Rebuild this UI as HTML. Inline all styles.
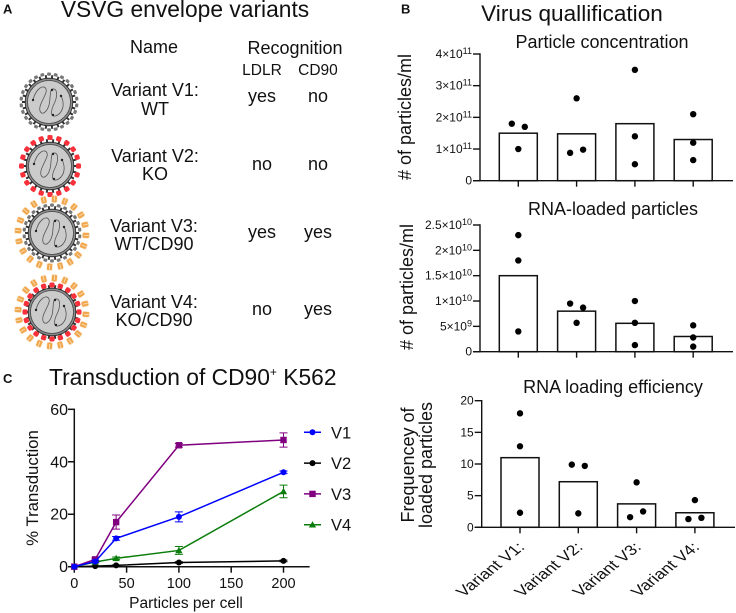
<!DOCTYPE html>
<html lang="en">
<head>
<meta charset="utf-8">
<title>VSVG envelope variants</title>
<style>
html,body{margin:0;padding:0;background:#fff;}
svg{display:block;font-family:"Liberation Sans",Arial,sans-serif;fill:#111;}
.c{text-anchor:middle;}
.panel{font-weight:bold;font-size:13px;}
.t23{font-size:22.8px;}
.t18{font-size:18px;}
.t155{font-size:15.5px;}
</style>
</head>
<body>
<svg id="figure" width="736" height="613" viewBox="0 0 736 613" xmlns="http://www.w3.org/2000/svg">
  <rect width="736" height="613" fill="#fff"/>

  <text class="panel" x="3" y="13.5">A</text>
  <text class="panel" x="401" y="13.5">B</text>
  <text class="panel" x="3" y="383">C</text>

  <text class="t23 c" x="185" y="17">VSVG envelope variants</text>
  <text class="t18 c" x="154" y="53">Name</text>
  <text class="t18 c" x="295" y="54">Recognition</text>
  <text class="t155 c" x="262" y="75">LDLR</text>
  <text class="t155 c" x="318" y="75">CD90</text>

  <g class="t18">
    <text class="c" x="155" y="96">Variant V1:</text>
    <text class="c" x="155" y="115">WT</text>
    <text class="c" x="262" y="102">yes</text>
    <text class="c" x="318" y="102">no</text>
    <text class="c" x="155" y="162">Variant V2:</text>
    <text class="c" x="155" y="180">KO</text>
    <text class="c" x="262" y="170">no</text>
    <text class="c" x="318" y="170">no</text>
    <text class="c" x="154" y="232">Variant V3:</text>
    <text class="c" x="154" y="250">WT/CD90</text>
    <text class="c" x="262" y="238">yes</text>
    <text class="c" x="318" y="238">yes</text>
    <text class="c" x="154" y="308">Variant V4:</text>
    <text class="c" x="154" y="326">KO/CD90</text>
    <text class="c" x="262" y="315">no</text>
    <text class="c" x="318" y="315">yes</text>
  </g>

  <g id="viruses"></g>

  <text class="c" font-size="22.6" x="572" y="21">Virus quallification</text>
  <text class="t18 c" x="602" y="48">Particle concentration</text>
  <text class="t18 c" x="613" y="215">RNA-loaded particles</text>
  <text class="t18 c" x="613" y="393">RNA loading efficiency</text>

  <text class="t18 c" transform="translate(411,117) rotate(-90)"># of particles/ml</text>
  <text class="t18 c" transform="translate(413,287) rotate(-90)"># of particles/ml</text>
  <text class="t18 c" transform="translate(414,465) rotate(-90)">Frequencey of</text>
  <text class="t18 c" transform="translate(432,465) rotate(-90)">loaded particles</text>

  <g id="bars1"></g>
  <g id="bars2"></g>
  <g id="bars3"></g>

  <text class="t23" x="49" y="385">Transduction of CD90<tspan font-size="12" dy="-9">+</tspan><tspan dy="9"> K562</tspan></text>
  <text class="c" font-size="16.8" transform="translate(38,488) rotate(-90)">% Transduction</text>
  <text class="c" font-size="15.5" x="186" y="608">Particles per cell</text>
  <g id="linechart"></g>
</svg>

<script>
// ---------- Bar chart data ----------
const variantCategories = ['Variant V1:', 'Variant V2:', 'Variant V3:', 'Variant V4:'];

const concentrationTicks = [0, 1e11, 2e11, 3e11, 4e11];
const concentrationTickLabels = [['0', ''], ['1×10', '11'], ['2×10', '11'], ['3×10', '11'], ['4×10', '11']];
const concentrationBars = [1.5e11, 1.48e11, 1.8e11, 1.3e11];
const concentrationDots = [[1.8e11, 1.7e11, 1.0e11], [2.6e11, 0.88e11, 0.98e11], [3.5e11, 1.4e11, 0.52e11], [2.1e11, 1.2e11, 0.65e11]];

const loadedTicks = [0, 5e9, 1e10, 1.5e10, 2e10, 2.5e10];
const loadedTickLabels = [['0', ''], ['5×10', '9'], ['1×10', '10'], ['1.5×10', '10'], ['2×10', '10'], ['2.5×10', '10']];
const loadedBars = [1.5e10, 0.8e10, 0.56e10, 0.3e10];
const loadedDots = [[2.3e10, 1.8e10, 0.4e10], [0.95e10, 0.87e10, 0.57e10], [1.0e10, 0.57e10, 0.13e10], [0.52e10, 0.28e10, 0.1e10]];

const efficiencyTicks = [0, 5, 10, 15, 20];
const efficiencyTickLabels = [['0', ''], ['5', ''], ['10', ''], ['15', ''], ['20', '']];
const efficiencyBars = [11, 7.2, 3.7, 2.3];
const efficiencyDots = [[18, 12.8, 2.3], [9.9, 9.7, 2.2], [7.1, 1.6, 2.5], [4.3, 1.3, 1.5]];

// ---------- Line chart data ----------
const doseValues = [0, 20, 40, 100, 200];
const xTickValues = [0, 50, 100, 150, 200];
const yTickValues = [0, 20, 40, 60];
const seriesNames = ['V1', 'V2', 'V3', 'V4'];
const v1Values = [0, 2, 10.8, 19, 36];
const v1Errors = [0, 0.5, 0.7, 1.9, 0.5];
const v2Values = [0, 0.2, 0.5, 1.6, 2.2];
const v2Errors = [0, 0.1, 0.2, 0.3, 0.3];
const v3Values = [0, 2.8, 17, 46.3, 48.3];
const v3Errors = [0, 0.5, 2.7, 0.7, 2.7];
const v4Values = [0, 1.8, 3.2, 6.2, 28.7];
const v4Errors = [0, 0.3, 0.5, 1.5, 2.4];

const NS = 'http://www.w3.org/2000/svg';
function make(tag, attrs, parent) {
  const e = document.createElementNS(NS, tag);
  for (const k in attrs) e.setAttribute(k, attrs[k]);
  parent.appendChild(e);
  return e;
}

// ---------- Bar charts ----------
function drawBarChart(opts) {
  const root = document.getElementById(opts.id);
  const y = v => opts.y0 - (v / opts.ticks[opts.ticks.length - 1]) * (opts.y0 - opts.yTop);
  const x = i => opts.cx0 + i * opts.step;

  opts.bars.forEach((v, i) => {
    const bar = make('rect', {x: x(i) - 19, y: y(v), width: 38, height: opts.y0 - y(v), fill: '#fff', stroke: '#111', 'stroke-width': 1.5}, root);
    
    
  });

  const yAxis = make('line', {x1: opts.xAxis, x2: opts.xAxis, y1: opts.yTop - 0.7, y2: opts.y0 + 0.7, stroke: '#111', 'stroke-width': 1.4}, root);
  
  
  const xAxis = make('line', {x1: opts.xAxis - 7, x2: opts.xEnd, y1: opts.y0, y2: opts.y0, stroke: '#111', 'stroke-width': 1.4}, root);
  
  

  opts.ticks.forEach((t, i) => {
    const tick = make('line', {x1: opts.xAxis - 7, x2: opts.xAxis, y1: y(t), y2: y(t), stroke: '#111', 'stroke-width': 1.4}, root);
    
    
    const label = make('text', {x: opts.xAxis - 8, y: y(t) + 4, 'text-anchor': 'end', 'font-size': opts.tickSize}, root);
    
    
    const main = make('tspan', {}, label);
    main.textContent = opts.labels[i][0];
    if (opts.labels[i][1]) {
      const sup = make('tspan', {'font-size': 9, dy: -4}, label);
      sup.textContent = opts.labels[i][1];
    }
  });

  opts.bars.forEach((v, i) => {
    const tick = make('line', {x1: x(i), x2: x(i), y1: opts.y0, y2: opts.y0 + 6, stroke: '#111', 'stroke-width': 1.4}, root);
    
    
  });

  opts.dots.forEach((group, i) => {
    group.forEach((v, j) => {
      const py = y(v);
      let off = 0;
      // Points that share a height are swarmed sideways, as in a scatter-dot plot.
      group.forEach((w, k) => {
        if (k !== j && Math.abs(y(w) - py) < 6.4) off = (k > j) ? -6.5 : 6.5;
      });
      const dot = make('circle', {cx: x(i) + off, cy: py, r: 3.2, fill: '#000'}, root);
      
      
    });
  });

  if (opts.showCategories) {
    variantCategories.forEach((c, i) => {
      const label = make('text', {transform: 'translate(' + (x(i) + 5.5) + ',548) scale(1,0.8) rotate(-45)', 'text-anchor': 'end', 'font-size': 18}, root);
      
      
      label.textContent = c;
    });
  }
}

drawBarChart({id: 'bars1', key: 'concentration', ticks: concentrationTicks, labels: concentrationTickLabels, bars: concentrationBars, dots: concentrationDots, y0: 180.7, yTop: 54, xAxis: 480, xEnd: 733, cx0: 518.3, step: 58.3, tickSize: 12});
drawBarChart({id: 'bars2', key: 'loaded', ticks: loadedTicks, labels: loadedTickLabels, bars: loadedBars, dots: loadedDots, y0: 351.7, yTop: 225, xAxis: 480, xEnd: 733, cx0: 518.3, step: 58.3, tickSize: 12});
drawBarChart({id: 'bars3', key: 'efficiency', ticks: efficiencyTicks, labels: efficiencyTickLabels, bars: efficiencyBars, dots: efficiencyDots, y0: 527.3, yTop: 400.7, xAxis: 481.7, xEnd: 735, cx0: 520, step: 58.3, tickSize: 12});
(function () {
  const root = document.getElementById('bars3');
  variantCategories.forEach((c, i) => {
    const label = make('text', {transform: 'translate(' + (525.5 + i * 58.3) + ',548) scale(1,0.8) rotate(-45)', 'text-anchor': 'end', 'font-size': 18}, root);
    
    
    label.textContent = c;
  });
})();

// ---------- Line chart ----------
(function () {
  const root = document.getElementById('linechart');
  const sx = v => 74.3 + (v / 200) * 209.2;
  const sy = v => 566.7 - (v / 60) * 157.4;
  const colors = {V1: '#0000ff', V2: '#000000', V3: '#800080', V4: '#0a7d0a'};
  const valuesBySeries = {V1: v1Values, V2: v2Values, V3: v3Values, V4: v4Values};
  const errorsBySeries = {V1: v1Errors, V2: v2Errors, V3: v3Errors, V4: v4Errors};

  function marker(name, cx, cy, parent) {
    const col = colors[name];
    if (name === 'V3') return make('rect', {x: cx - 3.2, y: cy - 3.2, width: 6.4, height: 6.4, fill: col}, parent);
    if (name === 'V4') return make('polygon', {points: (cx) + ',' + (cy - 3.6) + ' ' + (cx + 3.6) + ',' + (cy + 2.8) + ' ' + (cx - 3.6) + ',' + (cy + 2.8), fill: col}, parent);
    return make('circle', {cx: cx, cy: cy, r: 3, fill: col}, parent);
  }

  const yAxis = make('line', {x1: 74.3, x2: 74.3, y1: sy(60) - 0.7, y2: sy(0), stroke: '#111', 'stroke-width': 1.5}, root);
  
  
  const xAxis = make('line', {x1: 68, x2: sx(225), y1: sy(0), y2: sy(0), stroke: '#111', 'stroke-width': 1.5}, root);
  
  

  yTickValues.forEach(t => {
    const tick = make('line', {x1: 68, x2: 74.3, y1: sy(t), y2: sy(t), stroke: '#111', 'stroke-width': 1.5}, root);
    
    
    const label = make('text', {x: 68, y: sy(t) + 5.5, 'text-anchor': 'end', 'font-size': 16}, root);
    
    
    label.textContent = t;
  });
  xTickValues.forEach(t => {
    const tick = make('line', {x1: sx(t), x2: sx(t), y1: sy(0), y2: sy(0) + 6, stroke: '#111', 'stroke-width': 1.5}, root);
    
    
    const label = make('text', {x: sx(t), y: 588, 'text-anchor': 'middle', 'font-size': 14.5}, root);
    
    
    label.textContent = t;
  });

  ['V2', 'V4', 'V3', 'V1'].forEach(name => {
    const vals = valuesBySeries[name];
    const errs = errorsBySeries[name];
    const col = colors[name];
    const g = make('g', {}, root);
    
    
    const pts = vals.map((v, i) => sx(doseValues[i]) + ',' + sy(v)).join(' ');
    const line = make('polyline', {points: pts, fill: 'none', stroke: col, 'stroke-width': 1.5}, g);
    
    
    vals.forEach((v, i) => {
      const cx = sx(doseValues[i]);
      const e = errs[i];
      if (e > 0) {
        const err = make('path', {d: 'M' + (cx - 4) + ' ' + sy(v + e) + 'H' + (cx + 4) + 'M' + cx + ' ' + sy(v + e) + 'V' + sy(v - e) + 'M' + (cx - 4) + ' ' + sy(v - e) + 'H' + (cx + 4), fill: 'none', stroke: col, 'stroke-width': 1}, g);
        
        
      }
      const m = marker(name, cx, sy(v), g);
      
      
    });
  });

  seriesNames.forEach((name, i) => {
    const ly = 432.3 + i * 30.8;
    const g = make('g', {}, root);
    
    
    const line = make('line', {x1: 304, x2: 321, y1: ly, y2: ly, stroke: colors[name], 'stroke-width': 1.5}, g);
    
    
    const m = marker(name, 312.5, ly, g);
    
    
    const t = make('text', {x: 331, y: ly + 6, 'font-size': 16.5}, g);
    
    
    t.textContent = name;
  });
})();

// ---------- Virus illustrations ----------
(function () {
  const root = document.getElementById('viruses');
  const list = [
    {name: 'v1', cx: 49, cy: 102, head: '#777777', cd90: false},
    {name: 'v2', cx: 50, cy: 166, head: '#f8303a', cd90: false},
    {name: 'v3', cx: 52, cy: 233, head: '#777777', cd90: true},
    {name: 'v4', cx: 52, cy: 312, head: '#f8303a', cd90: true}
  ];
  list.forEach(v => {
    const g = make('g', {transform: 'translate(' + v.cx + ',' + v.cy + ')'}, root);
    
    
    if (v.cd90) {
      for (let i = 0; i < 20; i++) {
        const a = i * 18 + 4;
        const o = make('rect', {x: -2.8, y: -37.5, width: 5.6, height: 7, rx: 1.6, fill: '#f0a64a', stroke: '#fbe3c4', 'stroke-width': 0.6, transform: 'rotate(' + a + ')'}, g);
        
        
        const mid = make('rect', {x: -0.4, y: -37, width: 0.8, height: 5, fill: '#fbe3c4', transform: 'rotate(' + a + ')'}, g);
        
        
      }
    }
    for (let i = 0; i < 26; i++) {
      const a = i * 360 / 26 + 7;
      const s = make('rect', {x: -1, y: -27, width: 2, height: 3, fill: '#333', transform: 'rotate(' + a + ')'}, g);
      
      
    }
    const red = v.head !== '#777777';
    const nHead = red ? 20 : 26;
    for (let i = 0; i < nHead; i++) {
      const a = i * 360 / nHead;
      const outer = red ? (v.cd90 ? 29.5 : 31) : 29.5;
      const h = make('rect', {x: red ? -2.6 : -1.9, y: -outer, width: red ? 5.2 : 3.8, height: red ? 5 : 3.2, rx: red ? 1.6 : 1, fill: v.head, transform: 'rotate(' + a + ')'}, g);
      
      
    }
    const shell = make('circle', {r: 23.8, fill: '#8c8c8c', stroke: '#222', 'stroke-width': 0.8}, g);
    
    
    const core = make('circle', {r: 21.5, fill: '#cbcbcb', stroke: '#444', 'stroke-width': 0.8}, g);
    
    
    const rna = make('path', {d: 'M-16,-2 C-13,-14 -5,-18 -3,-13 C-1,-8 -11,2 -9,9 C-7,14 -2,10 0,3 C2,-5 0,-14 5,-13 C9,-12 8,-4 5,2 C2,8 1,15 6,14 C11,13 15,7 14,0 C13,-5 12,-7 11,-6', fill: 'none', stroke: '#555', 'stroke-width': 0.8}, g);
    
    
    [[-16, -2], [3, -12], [12, -6], [4, 13]].forEach(p => {
      const d = make('circle', {cx: p[0], cy: p[1], r: 1.2, fill: '#222'}, g);
      
      
    });
  });
})();
</script>
</body>
</html>
